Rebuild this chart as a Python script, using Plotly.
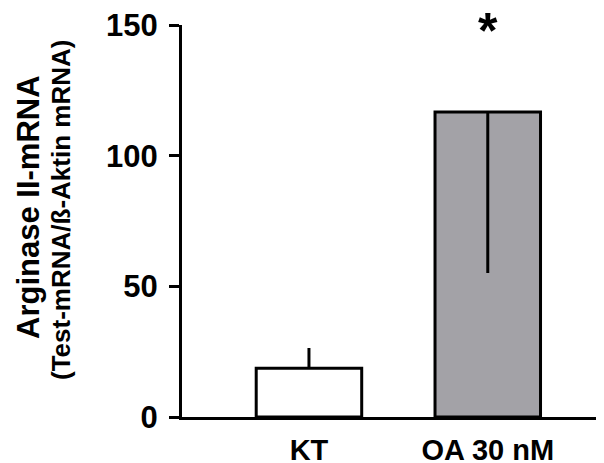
import plotly.graph_objects as go

categories = ["KT", "OA 30 nM"]
means = [18.7, 116.7]
err_plus = [7.7, 0]
err_minus = [0, 61.6]
bar_colors = ["#ffffff", "#a3a2a7"]
y_ticks = [0, 50, 100, 150]

FONT = "Liberation Sans, Arial, sans-serif"

fig = go.Figure()
fig.add_trace(go.Bar(
    x=[0, 1], y=means,
    width=0.59,
    marker=dict(color=bar_colors, line=dict(color="black", width=3)),
    error_y=dict(type="data", symmetric=False, array=err_plus, arrayminus=err_minus,
                 width=0, thickness=3, color="black"),
    showlegend=False,
))

OFF = 8  # page body margin
W, H = 604, 463
L, T = 182 - OFF, 25 - OFF
R = OFF
B = H - (417 - OFF)
pw, ph = W - L - R, H - T - B

def px_x(px):
    return (px - OFF - L) / pw

def px_y(py):
    return (H - B - (py - OFF)) / ph

fig.update_layout(
    width=W, height=H,
    margin=dict(l=L, r=R, t=T, b=B, pad=0),
    paper_bgcolor="white", plot_bgcolor="white",
    font=dict(family=FONT, color="black"),
    xaxis=dict(range=[-0.71, 1.65], tickmode="array", tickvals=[0, 1], ticktext=categories,
               showline=True, linecolor="black", linewidth=3, ticks="",
               showgrid=False, zeroline=False, automargin=False,
               ticklabeloverflow="allow",
               tickfont=dict(size=29, family=FONT, weight="bold"),
               ticklabelstandoff=5),
    yaxis=dict(range=[0, 150], tickvals=y_ticks, showline=True, linecolor="black", linewidth=3,
               ticks="outside", ticklen=10, tickwidth=3, tickcolor="black",
               showgrid=False, zeroline=False, automargin=False,
               ticklabeloverflow="allow",
               tickfont=dict(size=31, family=FONT, weight="bold"),
               ticklabelstandoff=5),
    annotations=[
        dict(text="Arginase II-mRNA", textangle=-90, xref="paper", yref="paper",
             x=px_x(28), y=px_y(207), xanchor="center", yanchor="middle", showarrow=False,
             font=dict(size=31, family=FONT, weight="bold")),
        dict(text="(Test-mRNA/ß-Aktin mRNA)", textangle=-90, xref="paper", yref="paper",
             x=px_x(61), y=px_y(210), xanchor="center", yanchor="middle", showarrow=False,
             font=dict(size=26, family=FONT, weight="bold")),
        dict(text="*", xref="x", yref="paper", x=1, y=px_y(28), xanchor="center",
             yanchor="middle", showarrow=False, yshift=-3,
             font=dict(size=50, family=FONT, weight="bold")),
    ],
)

fig.write_html("out.html")
